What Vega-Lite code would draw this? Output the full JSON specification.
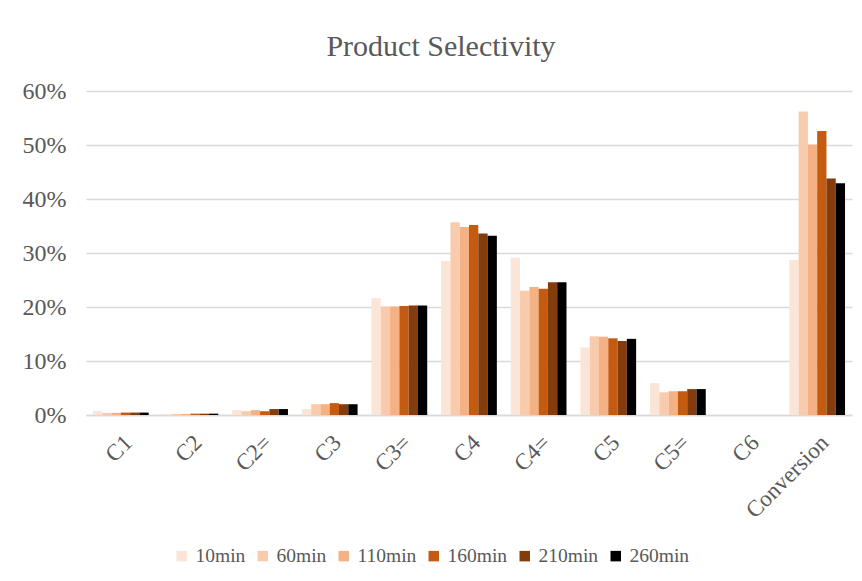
{
  "$schema": "https://vega.github.io/schema/vega-lite/v6.json",
  "autosize": "none",
  "width": 766,
  "height": 324,
  "padding": {"left": 86, "top": 91, "right": 10, "bottom": 166},
  "background": "white",
  "title": {
    "text": "Product Selectivity",
    "font": "Liberation Serif",
    "fontSize": 30,
    "fontWeight": "normal",
    "color": "#595959",
    "anchor": "middle",
    "dx": -28,
    "offset": 17
  },
  "config": {
    "view": {"stroke": null},
    "font": "Liberation Serif"
  },
  "data": {
    "values": [
      {"product": "C1", "time": "10min", "value": 0.0075},
      {"product": "C1", "time": "60min", "value": 0.004},
      {"product": "C1", "time": "110min", "value": 0.004},
      {"product": "C1", "time": "160min", "value": 0.0045},
      {"product": "C1", "time": "210min", "value": 0.0045},
      {"product": "C1", "time": "260min", "value": 0.0045},
      {"product": "C2", "time": "10min", "value": 0.002},
      {"product": "C2", "time": "60min", "value": 0.002},
      {"product": "C2", "time": "110min", "value": 0.002},
      {"product": "C2", "time": "160min", "value": 0.0025},
      {"product": "C2", "time": "210min", "value": 0.0025},
      {"product": "C2", "time": "260min", "value": 0.0025},
      {"product": "C2=", "time": "10min", "value": 0.009},
      {"product": "C2=", "time": "60min", "value": 0.007},
      {"product": "C2=", "time": "110min", "value": 0.009},
      {"product": "C2=", "time": "160min", "value": 0.007},
      {"product": "C2=", "time": "210min", "value": 0.011},
      {"product": "C2=", "time": "260min", "value": 0.011},
      {"product": "C3", "time": "10min", "value": 0.011},
      {"product": "C3", "time": "60min", "value": 0.02},
      {"product": "C3", "time": "110min", "value": 0.02},
      {"product": "C3", "time": "160min", "value": 0.022},
      {"product": "C3", "time": "210min", "value": 0.02},
      {"product": "C3", "time": "260min", "value": 0.02},
      {"product": "C3=", "time": "10min", "value": 0.216},
      {"product": "C3=", "time": "60min", "value": 0.201},
      {"product": "C3=", "time": "110min", "value": 0.201},
      {"product": "C3=", "time": "160min", "value": 0.202},
      {"product": "C3=", "time": "210min", "value": 0.203},
      {"product": "C3=", "time": "260min", "value": 0.203},
      {"product": "C4", "time": "10min", "value": 0.285},
      {"product": "C4", "time": "60min", "value": 0.357},
      {"product": "C4", "time": "110min", "value": 0.348},
      {"product": "C4", "time": "160min", "value": 0.352},
      {"product": "C4", "time": "210min", "value": 0.336},
      {"product": "C4", "time": "260min", "value": 0.332},
      {"product": "C4=", "time": "10min", "value": 0.291},
      {"product": "C4=", "time": "60min", "value": 0.23},
      {"product": "C4=", "time": "110min", "value": 0.237},
      {"product": "C4=", "time": "160min", "value": 0.234},
      {"product": "C4=", "time": "210min", "value": 0.246},
      {"product": "C4=", "time": "260min", "value": 0.246},
      {"product": "C5", "time": "10min", "value": 0.125},
      {"product": "C5", "time": "60min", "value": 0.146},
      {"product": "C5", "time": "110min", "value": 0.145},
      {"product": "C5", "time": "160min", "value": 0.142},
      {"product": "C5", "time": "210min", "value": 0.137},
      {"product": "C5", "time": "260min", "value": 0.141},
      {"product": "C5=", "time": "10min", "value": 0.059},
      {"product": "C5=", "time": "60min", "value": 0.042},
      {"product": "C5=", "time": "110min", "value": 0.044},
      {"product": "C5=", "time": "160min", "value": 0.044},
      {"product": "C5=", "time": "210min", "value": 0.048},
      {"product": "C5=", "time": "260min", "value": 0.048},
      {"product": "C6", "time": "10min", "value": 0},
      {"product": "C6", "time": "60min", "value": 0},
      {"product": "C6", "time": "110min", "value": 0},
      {"product": "C6", "time": "160min", "value": 0},
      {"product": "C6", "time": "210min", "value": 0},
      {"product": "C6", "time": "260min", "value": 0},
      {"product": "Conversion", "time": "10min", "value": 0.287},
      {"product": "Conversion", "time": "60min", "value": 0.562},
      {"product": "Conversion", "time": "110min", "value": 0.501},
      {"product": "Conversion", "time": "160min", "value": 0.526},
      {"product": "Conversion", "time": "210min", "value": 0.438},
      {"product": "Conversion", "time": "260min", "value": 0.429}
    ]
  },
  "mark": {"type": "bar"},
  "encoding": {
    "x": {
      "field": "product",
      "type": "nominal",
      "sort": null,
      "scale": {"paddingInner": 0.2, "paddingOuter": 0.1},
      "axis": {
        "title": null,
        "labelAngle": -45,
        "labelFont": "Liberation Serif",
        "labelFontSize": 23,
        "labelColor": "#595959",
        "domainColor": "#D9D9D9",
        "domainWidth": 1.5,
        "ticks": false,
        "labelPadding": 16
      }
    },
    "xOffset": {
      "field": "time",
      "type": "nominal",
      "sort": ["10min", "60min", "110min", "160min", "210min", "260min"],
      "scale": {"paddingInner": 0, "paddingOuter": 0}
    },
    "y": {
      "field": "value",
      "type": "quantitative",
      "scale": {"domain": [0, 0.6], "nice": false},
      "axis": {
        "title": null,
        "format": ".0%",
        "values": [0, 0.1, 0.2, 0.3, 0.4, 0.5, 0.6],
        "domain": false,
        "ticks": false,
        "grid": true,
        "gridColor": "#D9D9D9",
        "gridWidth": 1.5,
        "labelFont": "Liberation Serif",
        "labelFontSize": 24,
        "labelColor": "#595959",
        "labelPadding": 20
      }
    },
    "color": {
      "field": "time",
      "type": "nominal",
      "sort": ["10min", "60min", "110min", "160min", "210min", "260min"],
      "scale": {
        "domain": ["10min", "60min", "110min", "160min", "210min", "260min"],
        "range": ["#FBE5D6", "#F8CBAD", "#F4B183", "#C55A11", "#843C0C", "#000000"]
      },
      "legend": {
        "title": null,
        "orient": "none",
        "legendX": 86,
        "legendY": 455,
        "direction": "horizontal",
        "symbolType": "square",
        "symbolSize": 110,
        "symbolStrokeWidth": 0,
        "labelFont": "Liberation Serif",
        "labelFontSize": 19.5,
        "labelColor": "#595959",
        "labelOffset": 4,
        "columnPadding": 7
      }
    }
  }
}
